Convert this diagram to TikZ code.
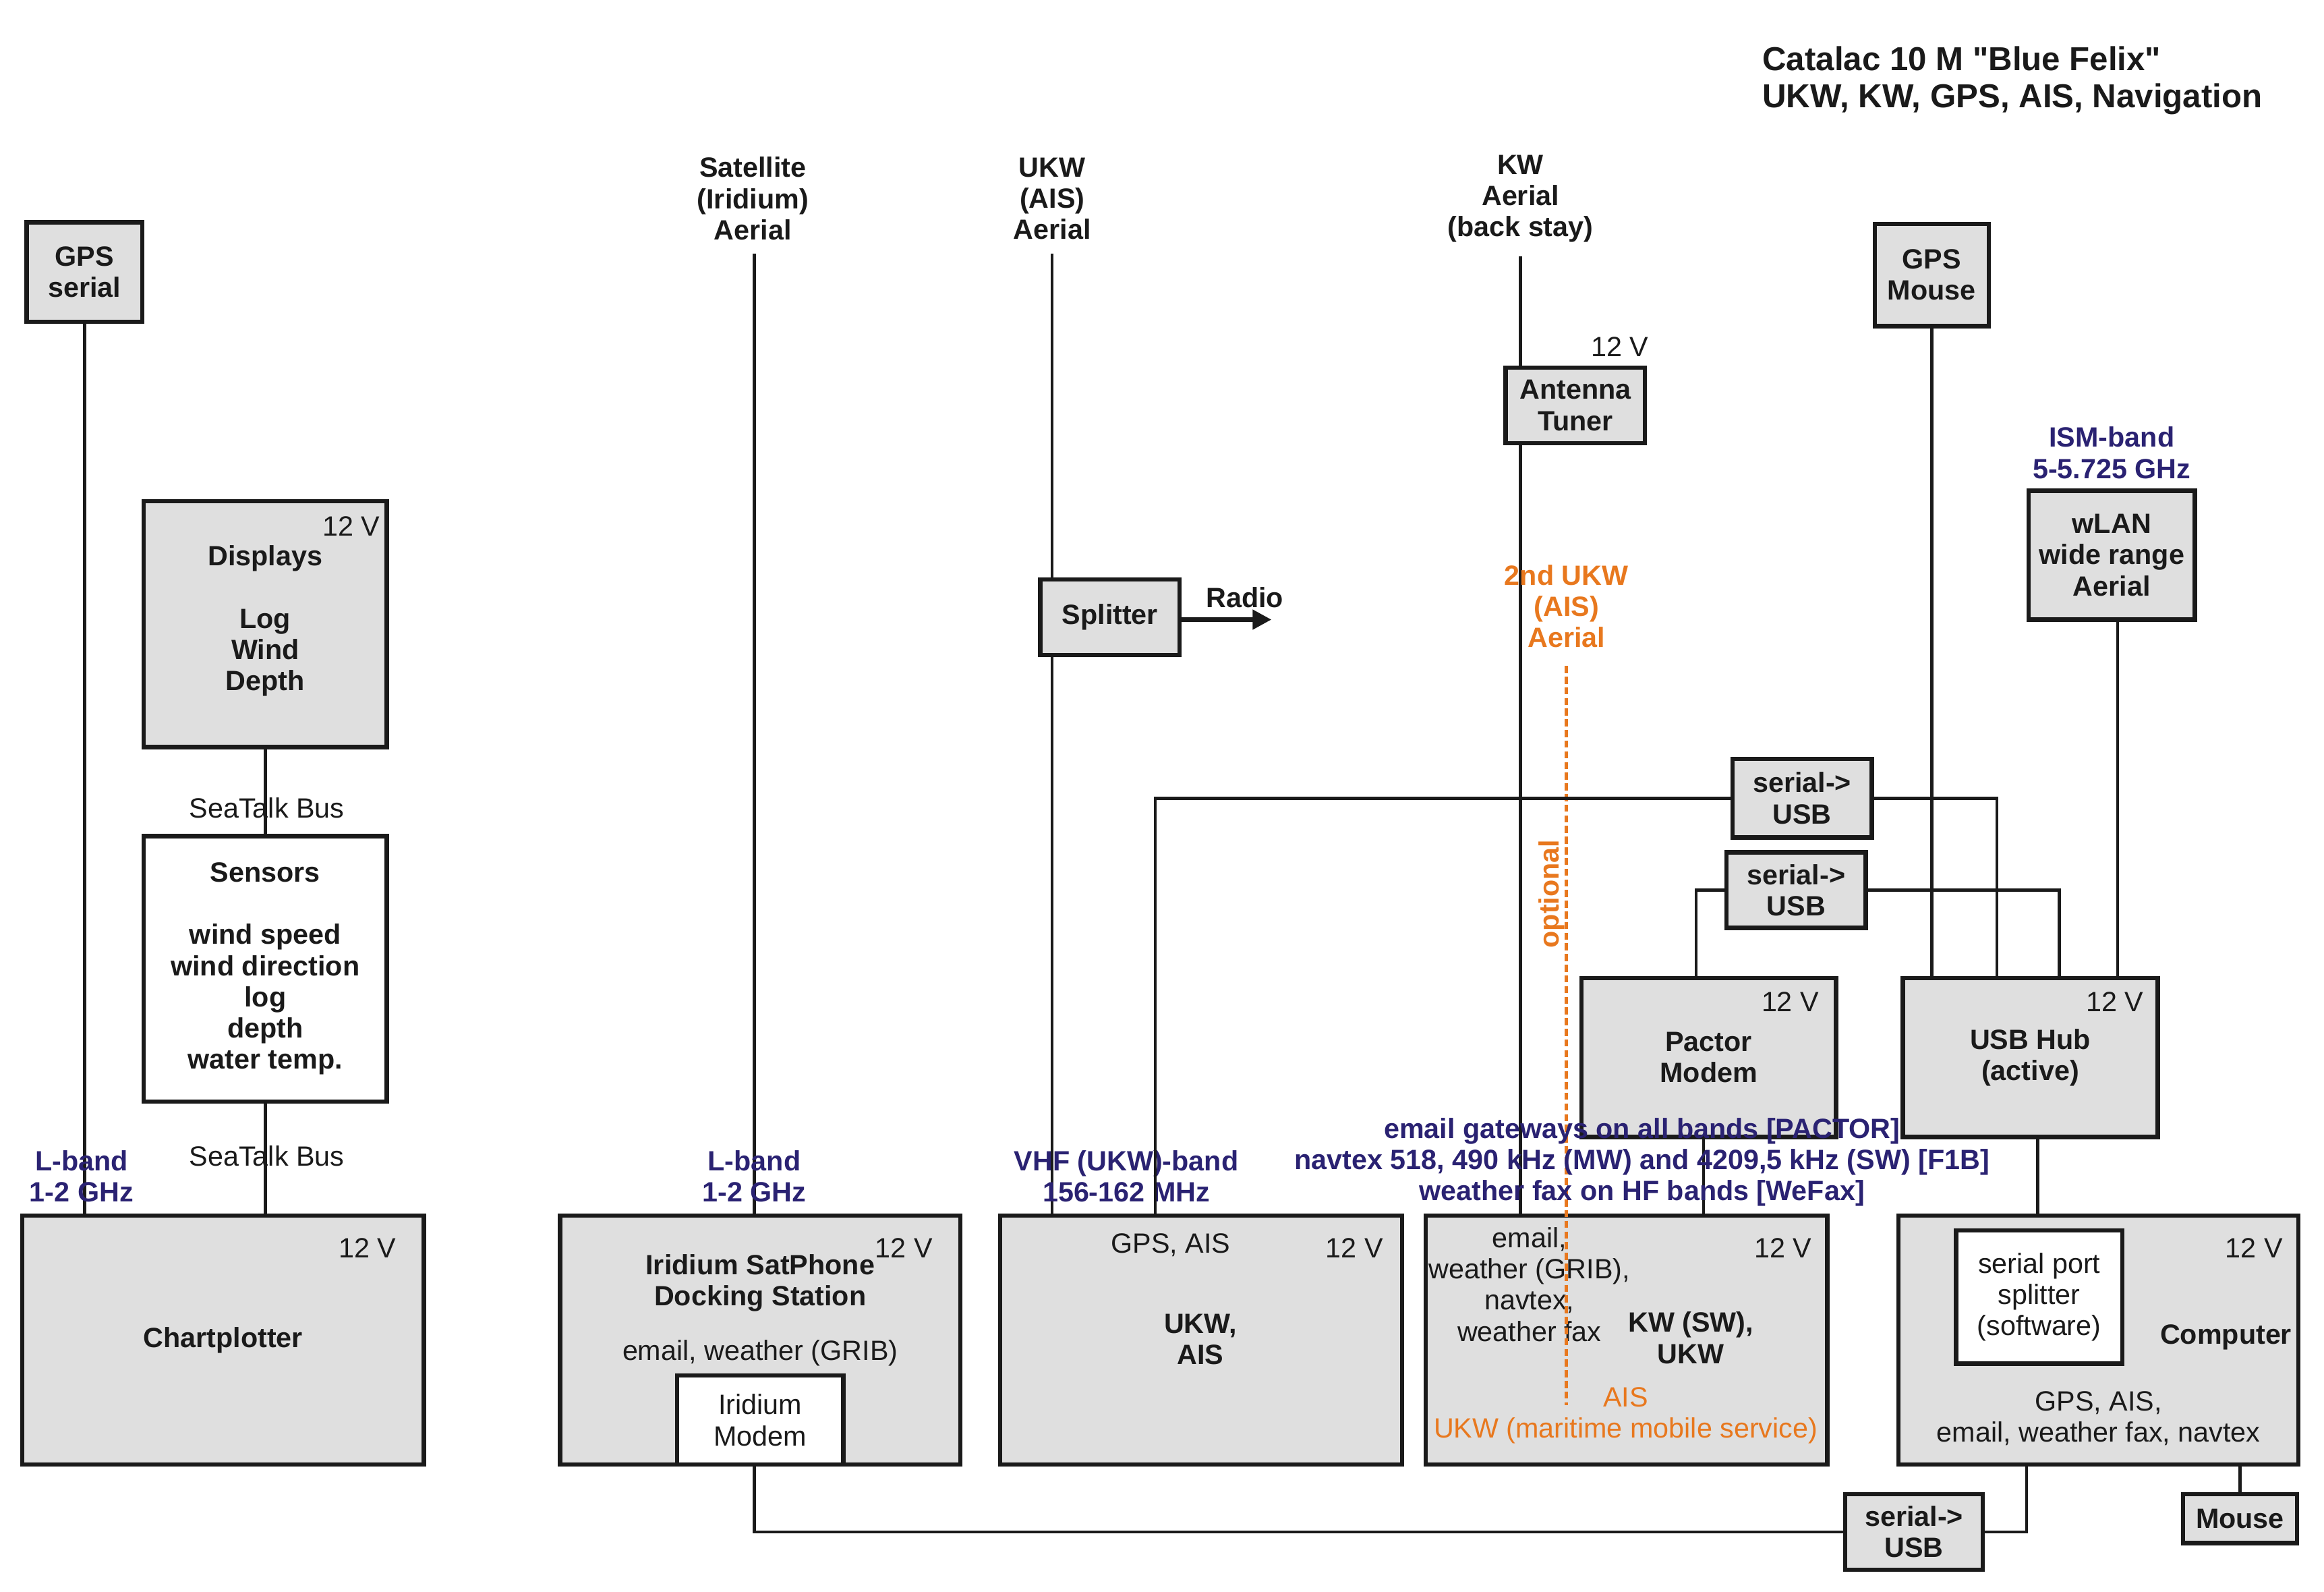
\documentclass[tikz,border=0pt]{standalone}
\usepackage{fontspec}
\setmainfont[Ligatures=TeXOff]{Liberation Sans}
\usetikzlibrary{calc,arrows.meta}
\definecolor{ink}{HTML}{1A1A1A}
\definecolor{unitbg}{HTML}{DFDFDF}
\definecolor{band}{HTML}{2A2272}
\definecolor{opt}{HTML}{E8781E}
\newlength\px
\setlength\px{0.021975cm}
\newcommand\boxfont{\fontsize{11.75}{13.15}\selectfont}
\tikzset{
  unit/.style={draw=ink, fill=unitbg, line width=1.8pt, inner sep=0pt, align=center, font=\boxfont\bfseries, text=ink},
  sub/.style={unit, fill=white, font=\boxfont},
  wh/.style 2 args={minimum width=#1\px, minimum height=#2\px},
  wire/.style={draw=ink, line width=1.3pt},
  lab/.style={text=ink, font=\boxfont, align=center, inner sep=0pt},
  labb/.style={lab, font=\boxfont\bfseries},
  bandlab/.style={labb, text=band},
  optlab/.style={lab, text=opt},
  optlabb/.style={labb, text=opt},
  optwire/.style={draw=opt, line width=1.3pt, dash pattern=on 3pt off 1.5pt},
}
\begin{document}
\begin{tikzpicture}[x=0.021975cm, y=-0.021975cm]
  \useasboundingbox (0,0) rectangle (1568.2,1073.6);
  \node[labb, font=\fontsize{14}{15.6}\selectfont\bfseries, align=left, anchor=west] (title) at (1189,54.5) {Catalac 10 M "Blue Felix"\\UKW, KW, GPS, AIS, Navigation};

  % chartplotter and seatalk
  \node[unit, wh={78}{67}] (gpsser) at (57,183.5) {GPS\\serial};
  \node[unit, wh={164}{166}] (disp) at (179,421) {};
  \node[labb] (displab) at (179,419) {Displays\\\mbox{}\\Log\\Wind\\Depth};
  \node[lab] (dispv) at (237,355) {12 V};
  \node[sub, wh={164}{179}, font=\boxfont\bfseries] (sens) at (179,653.5) {Sensors\\\mbox{}\\wind speed\\wind direction\\log\\depth\\water temp.};
  \node[unit, wh={271}{168}] (chart) at (150.5,904) {Chartplotter};
  \node[lab] (chartv) at (248,842) {12 V};
  \draw[wire] (gpsser.south) -- (gpsser.south |- chart.north);
  \draw[wire] (disp.south) -- (sens.north);
  \draw[wire] (sens.south) -- (sens.south |- chart.north);
  \node[lab] (bus1) at (180,545) {SeaTalk Bus};
  \node[lab] (bus2) at (180,780) {SeaTalk Bus};
  \node[bandlab] (lband1) at (55,793.5) {L-band\\1-2 GHz};

  % iridium
  \node[labb] (sat) at (508,134) {Satellite\\(Iridium)\\Aerial};
  \node[unit, wh={270}{168}] (irid) at (513,904) {};
  \node[labb] (iridlab) at (513,865.5) {Iridium SatPhone\\Docking Station};
  \node[lab] (iridv) at (610,842) {12 V};
  \node[lab] (iriddata) at (513,913) {email, weather (GRIB)};
  \node[sub, wh={112}{60}] (imodem) at (513,958) {Iridium\\Modem};
  \draw[wire] ($(sat.south)+(1,9)$) coordinate (sata) -- (sata |- irid.north);
  \node[bandlab] (lband2) at (509,793.5) {L-band\\1-2 GHz};

  % ukw
  \node[labb] (ukwant) at (710,134) {UKW\\(AIS)\\Aerial};
  \node[unit, wh={94}{51}] (split) at (749,416.5) {Splitter};
  \coordinate (radioend) at (858,418);
  \node[labb] (radio) at (840,403) {Radio};
  \node[unit, wh={271}{168}] (ukw) at (810.5,904) {};
  \node[lab] (ukwdata) at (790,840) {GPS, AIS};
  \node[lab] (ukwv) at (914,842) {12 V};
  \node[labb] (ukwlab) at (810,903.5) {UKW,\\AIS};
  \draw[wire] ($(ukwant.south)+(0,9)$) coordinate (ukwa) -- (ukwa |- split.north);
  \draw[wire] (ukwa |- split.south) -- (ukwa |- ukw.north);
  \draw[ink, line width=2.2pt, -{Triangle[length=0.28cm, width=0.28cm]}] (split.east |- radioend) -- (radioend);
  \node[bandlab] (vhf) at (760,793.5) {VHF (UKW)-band\\156-162 MHz};

  % kw
  \node[labb] (kwant) at (1026,134) {KW\\Aerial\\(back stay)};
  \node[unit, wh={94}{51}] (tuner) at (1063,273.5) {Antenna\\Tuner};
  \node[lab] (tunerv) at (1093,234) {12 V};
  \node[unit, wh={271}{168}] (kw) at (1097.5,904) {};
  \node[lab] (kwdata) at (1032,866.5) {email,\\weather (GRIB),\\navtex,\\weather fax};
  \node[lab] (kwv) at (1203,842) {12 V};
  \node[labb] (kwlab) at (1141,902.5) {KW (SW),\\UKW};
  \node[optlab] (kwmms) at (1097,955) {AIS\\UKW (maritime mobile service)};
  \draw[wire] ($(kwant.south)+(0,9)$) coordinate (kwa) -- (kwa |- tuner.north);
  \draw[wire] (kwa |- tuner.south) -- (kwa |- kw.north);

  % optional second aerial
  \node[optlabb] (ukw2) at (1057,409) {2nd UKW\\(AIS)\\Aerial};
  \node[optlabb, rotate=90] (optional) at (1047,603) {optional};
  \coordinate (ukw2end) at (1057,948);
  \draw[optwire] ($(ukw2.south)+(0,12)$) -- (ukw2end);

  % pactor, usb hub
  \node[unit, wh={172}{107}] (pactor) at (1153,713.5) {Pactor\\Modem};
  \node[lab] (pactorv) at (1208,676) {12 V};
  \node[unit, wh={94}{53}] (ser1) at (1216,538.5) {serial->\\USB};
  \node[unit, wh={94}{51}] (ser2) at (1212,600.5) {serial->\\USB};
  \node[unit, wh={77}{69}] (gpsm) at (1303.5,185.5) {GPS\\Mouse};
  \node[bandlab] (ism) at (1425,305.5) {ISM-band\\5-5.725 GHz};
  \node[unit, wh={112}{87}] (wlan) at (1425,374.5) {wLAN\\wide range\\Aerial};
  \node[unit, wh={172}{107}] (hub) at (1370,713.5) {USB Hub\\(active)};
  \node[lab] (hubv) at (1427,676) {12 V};
  \draw[wire] (ser1.west) -| ($(ukw.north west)+(106,0)$);
  \draw[wire] (ser1.east) -| ($(hub.north west)+(65,0)$);
  \draw[wire] (ser2.west) -| ($(pactor.north west)+(79,0)$);
  \draw[wire] (ser2.east) -| ($(hub.north west)+(107,0)$);
  \draw[wire] (gpsm.south) -- (gpsm.south |- hub.north);
  \draw[wire] ($(wlan.south)+(4,0)$) coordinate (wl) -- (wl |- hub.north);
  \draw[wire] ($(pactor.south west)+(84,0)$) coordinate (pk) -- (pk |- kw.north);
  \node[bandlab] (kwbands) at (1108,784) {email gateways on all bands [PACTOR]\\navtex 518, 490 kHz (MW) and 4209,5 kHz (SW) [F1B]\\weather fax on HF bands [WeFax]};

  % computer
  \node[unit, wh={270}{168}] (comp) at (1416,904) {};
  \node[sub, wh={112}{90}] (spsw) at (1376,875) {serial port\\splitter\\(software)};
  \node[lab] (compv) at (1521,842) {12 V};
  \node[labb] (complab) at (1502,902) {Computer};
  \node[lab] (compdata) at (1416,957) {GPS, AIS,\\email, weather fax, navtex};
  \draw[wire] ($(hub.south)+(5,0)$) coordinate (hc) -- (hc |- comp.north);
  \node[unit, wh={93}{51}] (ser3) at (1291.5,1033.5) {serial->\\USB};
  \node[unit, wh={77}{33}] (mouse) at (1511.5,1024.5) {Mouse};
  \draw[wire] ($(imodem.south)+(-4,0)$) |- (ser3.west);
  \draw[wire] (ser3.east) -| ($(comp.south west)+(88,0)$);
  \draw[wire] (mouse.north |- comp.south) -- (mouse.north);
\end{tikzpicture}
\end{document}
